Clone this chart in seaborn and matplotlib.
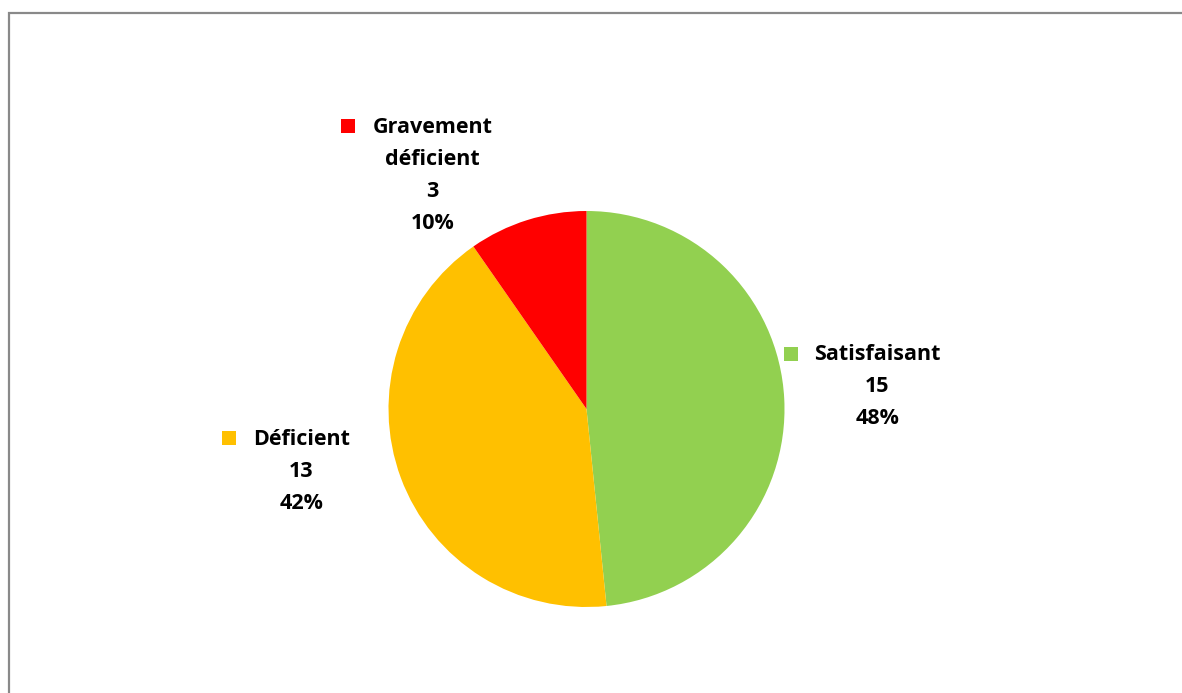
import matplotlib
matplotlib.use("Agg")
import matplotlib.pyplot as plt
import seaborn as sns
from matplotlib.patches import Rectangle

sns.set_theme(style="white")
plt.rcParams['font.family'] = ['Open Sans', 'DejaVu Sans']

categories = ["Satisfaisant", "Déficient", "Gravement déficient"]
values = [15, 13, 3]
colors = ["#92D050", "#FFC000", "#FF0000"]
label_lines = [["Satisfaisant"], ["Déficient"], ["Gravement", "déficient"]]

W, H = 1182, 693
fig = plt.figure(figsize=(W / 100, H / 100), dpi=100)
fig.patch.set_facecolor("white")

cx, cy, r = 586.5, 409, 198
ax = fig.add_axes([(cx - r) / W, (H - cy - r) / H, 2 * r / W, 2 * r / H])
ax.pie(values, colors=colors, startangle=90, counterclock=False, radius=1,
       wedgeprops=dict(linewidth=0))
ax.set_xlim(-1, 1)
ax.set_ylim(-1, 1)
ax.set_aspect("equal")
ax.axis("off")

# label layout (data units, radius = 1): text center x, first-line y, marker x
layout = [(1.468, 0.273, 1.032), (-1.44, -0.152, -1.806), (-0.778, 1.424, -1.205)]
line_step = 32 / r
total = sum(values)
for lines, v, col, (tx, ty, mx) in zip(label_lines, values, colors, layout):
    texts = lines + [str(v), f"{round(100 * v / total):d}%"]
    for i, t in enumerate(texts):
        ax.text(tx, ty - i * line_step, t, ha="center", va="center",
                fontsize=15.5, fontweight="bold", color="black", clip_on=False)
    ax.scatter([mx], [ty + 0.004], marker="s", s=105, color=col, clip_on=False,
               linewidths=0)

# outer frame (cropped at right and bottom like the reference)
fig.patches.append(Rectangle((9 / W, -0.1), 1.2, (H - 13) / H + 0.1,
                             transform=fig.transFigure, fill=False,
                             edgecolor="#898989", linewidth=1.6))

fig.savefig("out.png", dpi=100, facecolor="white")
